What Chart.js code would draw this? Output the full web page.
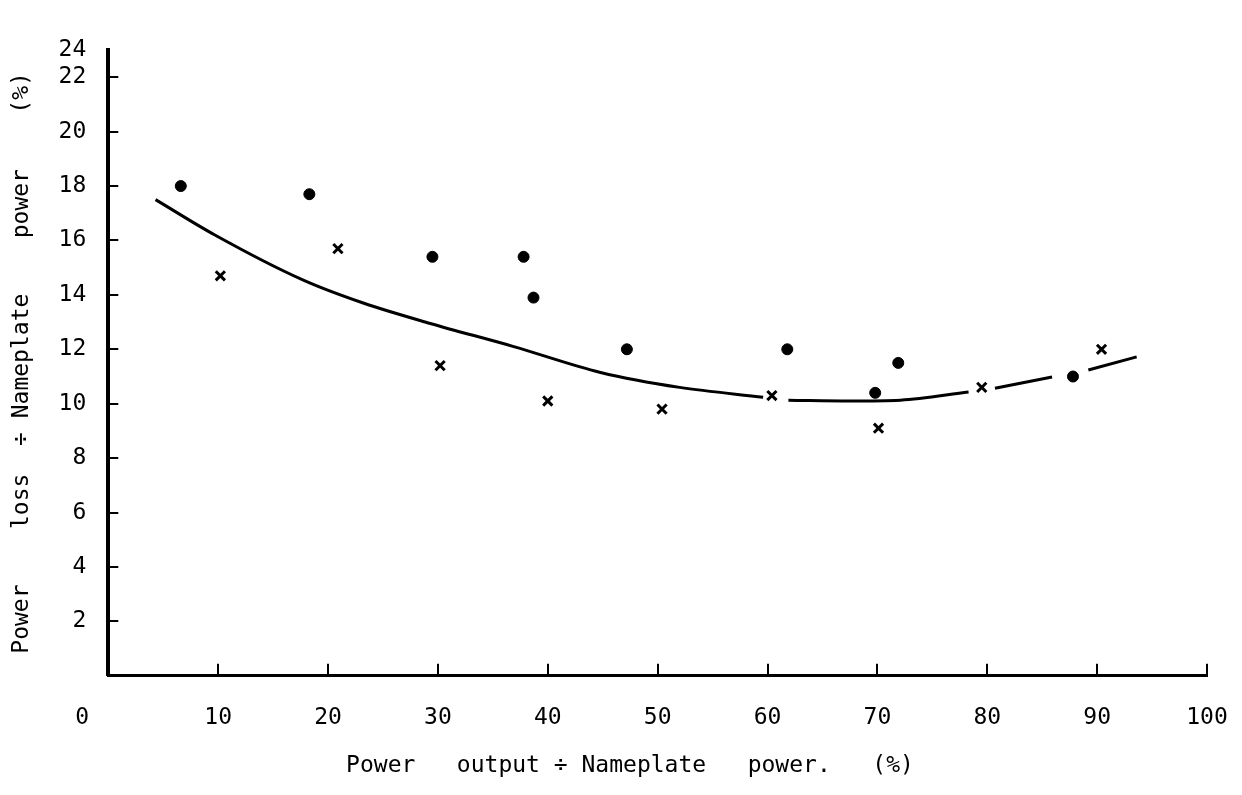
<!DOCTYPE html>
<html>
<head>
<meta charset="utf-8">
<script src="https://cdn.jsdelivr.net/npm/chart.js@4.4.1/dist/chart.umd.min.js"></script>
<style>
  html, body { margin: 0; padding: 0; background: #fff; }
  #wrap { width: 1242px; height: 795px; }
</style>
</head>
<body>
<div id="wrap"><canvas id="lossChart"></canvas></div>
<script>
// measured points (dots and crosses), x = % output, y = % loss
const dotX = [6.6, 18.3, 29.5, 37.8, 38.7, 47.2, 61.8, 69.8, 71.9, 87.8];
const dotY = [18.0, 17.7, 15.4, 15.4, 13.9, 12.0, 12.0, 10.4, 11.5, 11.0];

const crossX = [10.2, 20.9, 30.2, 40.0, 50.4, 60.4, 70.1, 79.5, 90.4];
const crossY = [14.7, 15.7, 11.4, 10.1, 9.8, 10.3, 9.1, 10.6, 12.0];

// fitted curve, null = break in the drawn line
const curveX = [4.3, 9.7, 17.7, 23.2, 29.3, 36.9, 44.8, 52.0, 59.6, 60.7, 61.9, 67.5, 72.1, 78.3, 79.5, 80.7, 85.9, 87.5, 89.2, 93.6];
const curveY = [17.5, 16.2, 14.55, 13.7, 12.95, 12.1, 11.15, 10.6, 10.24, null, 10.13, 10.1, 10.13, 10.43, null, 10.57, 10.98, null, 11.24, 11.72];

const xTicks = [10, 20, 30, 40, 50, 60, 70, 80, 90, 100];
const yTicks = [2, 4, 6, 8, 10, 12, 14, 16, 18, 20, 22, 23];
const yTickLabels = ['2', '4', '6', '8', '10', '12', '14', '16', '18', '20', '22', '24'];

const FONT = "'DejaVu Sans Mono'";

function pts(xs, ys) {
  return xs.map((x, i) => ({ x: x, y: ys[i] }));
}

// little tick marks pointing into the plot, plus the lone "0" in the corner
const inwardTicks = {
  id: 'inwardTicks',
  afterDraw(chart) {
    const c = chart.ctx;
    const xs = chart.scales.x, ys = chart.scales.y;
    c.save();
    c.strokeStyle = '#000';
    c.lineWidth = 2;
    xTicks.forEach(v => {
      const px = Math.round(xs.getPixelForValue(v));
      c.beginPath();
      c.moveTo(px, ys.bottom);
      c.lineTo(px, ys.bottom - 12);
      c.stroke();
    });
    yTicks.slice(0, -1).forEach(v => {
      const py = Math.round(ys.getPixelForValue(v));
      c.beginPath();
      c.moveTo(xs.left, py);
      c.lineTo(xs.left + 10, py);
      c.stroke();
    });
    c.fillStyle = '#000';
    c.font = '23px ' + FONT;
    c.textAlign = 'center';
    c.textBaseline = 'middle';
    c.fillText('0', xs.left - 26, ys.bottom + 42);
    c.restore();
  }
};

const ctx = document.getElementById('lossChart').getContext('2d');

const lossChart = new Chart(ctx, {
  type: 'scatter',
  data: {
    datasets: [
      {
        type: 'line',
        data: pts(curveX, curveY),
        borderColor: '#000',
        borderWidth: 3,
        pointRadius: 0,
        cubicInterpolationMode: 'monotone',
        spanGaps: false,
        fill: false
      },
      {
        data: pts(dotX, dotY),
        pointStyle: 'circle',
        pointRadius: 5.5,
        backgroundColor: '#000',
        borderColor: '#000'
      },
      {
        data: pts(crossX, crossY),
        pointStyle: 'crossRot',
        pointRadius: 6.5,
        borderWidth: 3,
        borderColor: '#000'
      }
    ]
  },
  options: {
    responsive: true,
    maintainAspectRatio: false,
    animation: false,
    layout: { padding: { left: 8, right: 35, top: 50, bottom: 11 } },
    plugins: { legend: { display: false }, tooltip: { enabled: false } },
    scales: {
      x: {
        type: 'linear',
        min: 0,
        max: 100,
        afterBuildTicks: s => { s.ticks = xTicks.map(v => ({ value: v })); },
        afterFit: s => { s.paddingRight = 0; s.paddingLeft = 0; },
        grid: { display: true, drawOnChartArea: false, drawTicks: false },
        border: { color: '#000', width: 3 },
        ticks: { color: '#000', font: { family: FONT, size: 23 }, padding: 28, maxRotation: 0 },
        title: {
          display: true,
          text: 'Power   output ÷ Nameplate   power.   (%)    ',
          color: '#000',
          font: { family: FONT, size: 23 },
          padding: { top: -7, bottom: 4 }
        }
      },
      y: {
        type: 'linear',
        min: 0,
        max: 23,
        afterBuildTicks: s => { s.ticks = yTicks.map(v => ({ value: v })); },
        grid: { display: true, drawOnChartArea: false, drawTicks: false },
        border: { color: '#000', width: 4 },
        ticks: {
          color: '#000',
          font: { family: FONT, size: 23 },
          padding: 22,
          callback: (v) => yTickLabels[yTicks.indexOf(v)]
        },
        title: {
          display: true,
          text: 'Power    loss  ÷ Nameplate    power    (%)',
          color: '#000',
          font: { family: FONT, size: 23 },
          padding: { top: 0, bottom: 1 }
        }
      }
    }
  },
  plugins: [inwardTicks]
});
</script>
</body>
</html>
